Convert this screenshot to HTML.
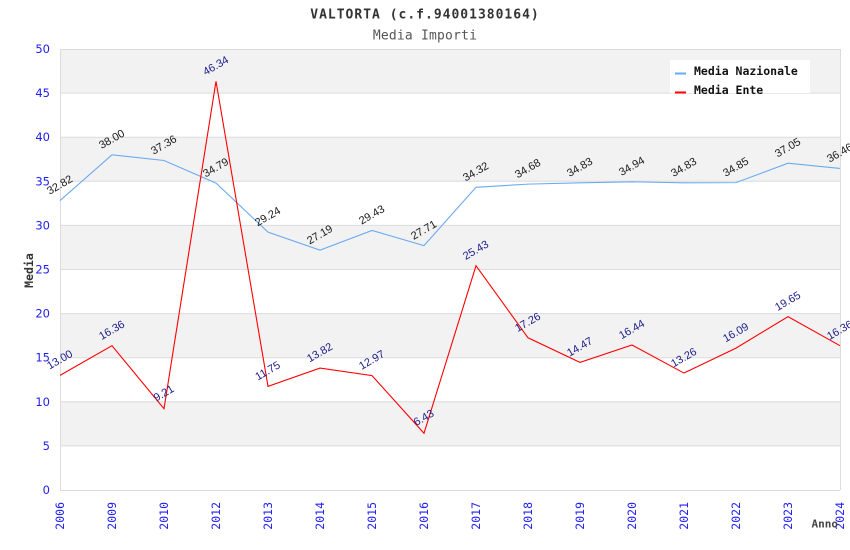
<!DOCTYPE html>
<html><head><meta charset="utf-8"><style>
html,body{margin:0;padding:0;background:#fff;}
svg{display:block;}
.yt{font-family:"DejaVu Sans","Liberation Sans",sans-serif;font-size:11.5px;fill:#2020f0;text-anchor:end;}
.xt{font-family:"DejaVu Sans Mono","Liberation Mono",monospace;font-size:11.5px;fill:#2020f0;text-anchor:end;}
.ln{font-family:"Liberation Sans",Arial,sans-serif;font-size:11px;fill:#1a1a1a;text-anchor:middle;}
.le{font-family:"Liberation Sans",Arial,sans-serif;font-size:11px;fill:#1c1c8c;text-anchor:middle;}
.mono{font-family:"DejaVu Sans Mono","Liberation Mono",monospace;}
</style></head><body>
<svg width="850" height="550" viewBox="0 0 850 550" xmlns="http://www.w3.org/2000/svg">
<rect x="0" y="0" width="850" height="550" fill="#fff"/>
<g fill="#f2f2f2">
<rect x="60" y="49" width="780" height="44.1"/>
<rect x="60" y="137.2" width="780" height="44.1"/>
<rect x="60" y="225.4" width="780" height="44.1"/>
<rect x="60" y="313.6" width="780" height="44.1"/>
<rect x="60" y="401.8" width="780" height="44.1"/>
</g>
<g stroke="#dcdcdc" stroke-width="1">
<line x1="60" y1="49.5" x2="840" y2="49.5"/>
<line x1="60" y1="93.1" x2="840" y2="93.1"/>
<line x1="60" y1="137.2" x2="840" y2="137.2"/>
<line x1="60" y1="181.3" x2="840" y2="181.3"/>
<line x1="60" y1="225.4" x2="840" y2="225.4"/>
<line x1="60" y1="269.5" x2="840" y2="269.5"/>
<line x1="60" y1="313.6" x2="840" y2="313.6"/>
<line x1="60" y1="357.7" x2="840" y2="357.7"/>
<line x1="60" y1="401.8" x2="840" y2="401.8"/>
<line x1="60" y1="445.9" x2="840" y2="445.9"/>
<line x1="60" y1="490.5" x2="840" y2="490.5"/>
<line x1="60.5" y1="49" x2="60.5" y2="490"/>
<line x1="840.5" y1="49" x2="840.5" y2="490"/>
</g>
<g class="yt">
<text x="50" y="53">50</text>
<text x="50" y="97.1">45</text>
<text x="50" y="141.2">40</text>
<text x="50" y="185.3">35</text>
<text x="50" y="229.4">30</text>
<text x="50" y="273.5">25</text>
<text x="50" y="317.6">20</text>
<text x="50" y="361.7">15</text>
<text x="50" y="405.8">10</text>
<text x="50" y="449.9">5</text>
<text x="50" y="494">0</text>
</g>
<g class="xt">
<text transform="translate(64,502) rotate(-90)">2006</text>
<text transform="translate(116,502) rotate(-90)">2009</text>
<text transform="translate(168,502) rotate(-90)">2010</text>
<text transform="translate(220,502) rotate(-90)">2012</text>
<text transform="translate(272,502) rotate(-90)">2013</text>
<text transform="translate(324,502) rotate(-90)">2014</text>
<text transform="translate(376,502) rotate(-90)">2015</text>
<text transform="translate(428,502) rotate(-90)">2016</text>
<text transform="translate(480,502) rotate(-90)">2017</text>
<text transform="translate(532,502) rotate(-90)">2018</text>
<text transform="translate(584,502) rotate(-90)">2019</text>
<text transform="translate(636,502) rotate(-90)">2020</text>
<text transform="translate(688,502) rotate(-90)">2021</text>
<text transform="translate(740,502) rotate(-90)">2022</text>
<text transform="translate(792,502) rotate(-90)">2023</text>
<text transform="translate(844,502) rotate(-90)">2024</text>
</g>
<polyline fill="none" stroke="#6aaaf2" stroke-width="1.1" points="60,200.53 112,154.84 164,160.48 216,183.15 268,232.10 320,250.18 372,230.43 424,245.60 476,187.30 528,184.12 580,182.80 632,181.83 684,182.80 736,182.62 788,163.22 840,168.42"/>
<polyline fill="none" stroke="#ff0000" stroke-width="1.1" points="60,375.34 112,345.70 164,408.77 216,81.28 268,386.36 320,368.11 372,375.60 424,433.29 476,265.71 528,337.77 580,362.37 632,345.00 684,373.05 736,348.09 788,316.69 840,345.70"/>
<g class="ln">
<text transform="translate(61.5,188) rotate(-30)">32.82</text>
<text transform="translate(113.5,142.3) rotate(-30)">38.00</text>
<text transform="translate(165.5,148) rotate(-30)">37.36</text>
<text transform="translate(217.5,170.7) rotate(-30)">34.79</text>
<text transform="translate(269.5,219.6) rotate(-30)">29.24</text>
<text transform="translate(321.5,237.7) rotate(-30)">27.19</text>
<text transform="translate(373.5,217.9) rotate(-30)">29.43</text>
<text transform="translate(425.5,233.1) rotate(-30)">27.71</text>
<text transform="translate(477.5,174.8) rotate(-30)">34.32</text>
<text transform="translate(529.5,171.6) rotate(-30)">34.68</text>
<text transform="translate(581.5,170.3) rotate(-30)">34.83</text>
<text transform="translate(633.5,169.3) rotate(-30)">34.94</text>
<text transform="translate(685.5,170.3) rotate(-30)">34.83</text>
<text transform="translate(737.5,170.1) rotate(-30)">34.85</text>
<text transform="translate(789.5,150.7) rotate(-30)">37.05</text>
<text transform="translate(841.5,155.9) rotate(-30)">36.46</text>
</g>
<g class="le">
<text transform="translate(61.5,362.8) rotate(-30)">13.00</text>
<text transform="translate(113.5,333.2) rotate(-30)">16.36</text>
<text transform="translate(165.5,396.3) rotate(-30)">9.21</text>
<text transform="translate(217.5,68.8) rotate(-30)">46.34</text>
<text transform="translate(269.5,373.9) rotate(-30)">11.75</text>
<text transform="translate(321.5,355.6) rotate(-30)">13.82</text>
<text transform="translate(373.5,363.1) rotate(-30)">12.97</text>
<text transform="translate(425.5,420.8) rotate(-30)">6.43</text>
<text transform="translate(477.5,253.2) rotate(-30)">25.43</text>
<text transform="translate(529.5,325.3) rotate(-30)">17.26</text>
<text transform="translate(581.5,349.9) rotate(-30)">14.47</text>
<text transform="translate(633.5,332.5) rotate(-30)">16.44</text>
<text transform="translate(685.5,360.6) rotate(-30)">13.26</text>
<text transform="translate(737.5,335.6) rotate(-30)">16.09</text>
<text transform="translate(789.5,304.2) rotate(-30)">19.65</text>
<text transform="translate(841.5,333.2) rotate(-30)">16.36</text>
</g>
<rect x="670" y="60" width="140" height="33" fill="#fff"/>
<line x1="675" y1="73.5" x2="686" y2="73.5" stroke="#6aaaf2" stroke-width="2"/>
<line x1="675" y1="92.5" x2="686" y2="92.5" stroke="#ff0000" stroke-width="2"/>
<text class="mono" x="694" y="75" font-size="11.5" font-weight="bold" fill="#111">Media Nazionale</text>
<text class="mono" x="694" y="94" font-size="11.5" font-weight="bold" fill="#111">Media Ente</text>
<text class="mono" x="425" y="18.5" font-size="13" font-weight="bold" fill="#333" text-anchor="middle" letter-spacing="1">VALTORTA (c.f.94001380164)</text>
<text class="mono" x="425" y="39.5" font-size="13" fill="#555" text-anchor="middle" letter-spacing="0.2">Media Importi</text>
<text class="mono" transform="translate(33,270.5) rotate(-90)" font-size="11.5" font-weight="bold" fill="#333" text-anchor="middle">Media</text>
<text class="mono" x="838" y="527.5" font-size="11" font-weight="bold" fill="#444" text-anchor="end">Anno</text>
</svg>
</body></html>
